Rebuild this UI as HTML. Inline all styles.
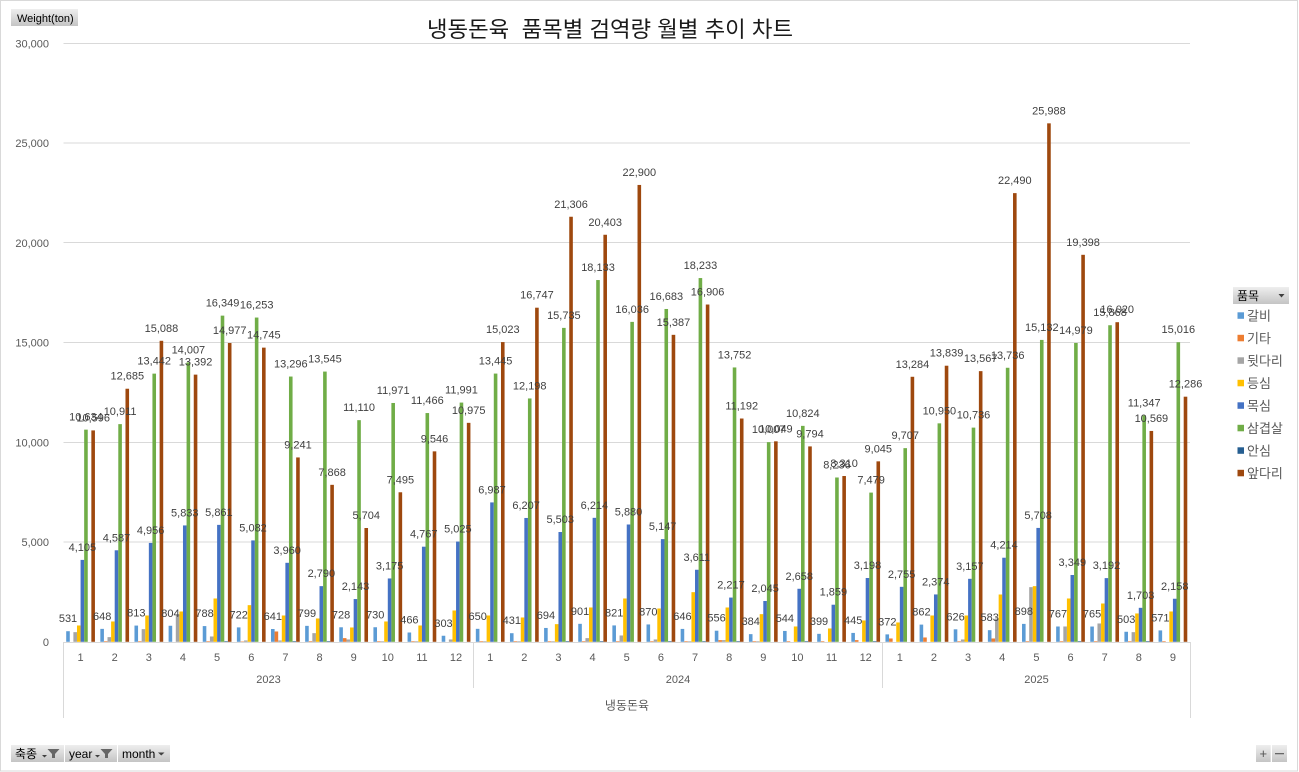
<!DOCTYPE html>
<html><head><meta charset="utf-8">
<style>
html,body{margin:0;padding:0;background:#fff;}
svg{display:block;font-family:"Liberation Sans","Noto Sans CJK KR",sans-serif;}
.a{fill:#5B9BD5}.b{fill:#ED7D31}.c{fill:#A5A5A5}.d{fill:#FFC000}.e{fill:#4472C4}.f{fill:#70AD47}.g{fill:#255E91}.h{fill:#9E480E}
.l{font-size:11px;fill:#404040;text-anchor:middle}
.t{font-size:11px;fill:#595959;text-anchor:end}
.m{font-size:11px;fill:#595959;text-anchor:middle}
.lg{font-size:13px;fill:#595959}
.gl{stroke:#d9d9d9;stroke-width:1}
</style></head><body>
<svg width="1299" height="772" viewBox="0 0 1299 772" xmlns="http://www.w3.org/2000/svg">
<defs>
<linearGradient id="btn" x1="0" y1="0" x2="0" y2="1"><stop offset="0" stop-color="#eeeeee"/><stop offset="1" stop-color="#c4c4c4"/></linearGradient>
</defs>
<rect x="0.5" y="0.5" width="1297" height="770.5" fill="#fff" stroke="#d9d9d9"/>

<!-- title -->
<text x="427" y="37" font-size="22" fill="#1a1a1a" xml:space="preserve" textLength="366" lengthAdjust="spacingAndGlyphs">냉동돈육  품목별 검역량 월별 추이 차트</text>

<!-- Weight button -->
<rect x="11" y="9" width="67" height="17" fill="url(#btn)"/>
<text x="17" y="22" font-size="11" fill="#000">Weight(ton)</text>

<!-- gridlines -->
<line class="gl" x1="63.5" x2="1190" y1="43.5" y2="43.5"/>
<line class="gl" x1="63.5" x2="1190" y1="143" y2="143"/>
<line class="gl" x1="63.5" x2="1190" y1="242.5" y2="242.5"/>
<line class="gl" x1="63.5" x2="1190" y1="342.5" y2="342.5"/>
<line class="gl" x1="63.5" x2="1190" y1="442.5" y2="442.5"/>
<line class="gl" x1="63.5" x2="1190" y1="542" y2="542"/>

<!-- y labels -->
<text class="t" x="49" y="47.5">30,000</text>
<text class="t" x="49" y="147">25,000</text>
<text class="t" x="49" y="246.8">20,000</text>
<text class="t" x="49" y="346.5">15,000</text>
<text class="t" x="49" y="446.3">10,000</text>
<text class="t" x="49" y="546">5,000</text>
<text class="t" x="49" y="645.8">0</text>

<!-- bars -->
<g transform="matrix(1,0,0,-0.01995,80.57,641.8)"><rect class="a" x="-14.37" width="3.59" height="531"/><rect class="c" x="-7.19" width="3.59" height="484"/><rect class="d" x="-3.59" width="3.59" height="818"/><rect class="e" x="0" width="3.59" height="4105"/><rect class="f" x="3.59" width="3.59" height="10634"/><rect class="h" x="10.78" width="3.59" height="10596"/>
<text class="l" transform="matrix(1,0,0,-50.125,-12.57,531)" y="-9">531</text><text class="l" transform="matrix(1,0,0,-50.125,1.8,4105)" y="-9">4,105</text><text class="l" transform="matrix(1,0,0,-50.125,5.39,10634)" y="-9">10,634</text><text class="l" transform="matrix(1,0,0,-50.125,12.58,10596)" y="-9">10,596</text></g>

<g transform="matrix(1,0,0,-0.01995,114.70,641.8)"><rect class="a" x="-14.37" width="3.59" height="648"/><rect class="b" x="-10.78" width="3.59" height="30"/><rect class="c" x="-7.19" width="3.59" height="234"/><rect class="d" x="-3.59" width="3.59" height="1019"/><rect class="e" x="0" width="3.59" height="4587"/><rect class="f" x="3.59" width="3.59" height="10911"/><rect class="h" x="10.78" width="3.59" height="12685"/>
<text class="l" transform="matrix(1,0,0,-50.125,-12.57,648)" y="-9">648</text><text class="l" transform="matrix(1,0,0,-50.125,1.8,4587)" y="-9">4,587</text><text class="l" transform="matrix(1,0,0,-50.125,5.39,10911)" y="-9">10,911</text><text class="l" transform="matrix(1,0,0,-50.125,12.58,12685)" y="-9">12,685</text></g>

<g transform="matrix(1,0,0,-0.01995,148.84,641.8)"><rect class="a" x="-14.37" width="3.59" height="813"/><rect class="b" x="-10.78" width="3.59" height="30"/><rect class="c" x="-7.19" width="3.59" height="635"/><rect class="d" x="-3.59" width="3.59" height="1319"/><rect class="e" x="0" width="3.59" height="4956"/><rect class="f" x="3.59" width="3.59" height="13442"/><rect class="h" x="10.78" width="3.59" height="15088"/>
<text class="l" transform="matrix(1,0,0,-50.125,-12.57,813)" y="-9">813</text><text class="l" transform="matrix(1,0,0,-50.125,1.8,4956)" y="-9">4,956</text><text class="l" transform="matrix(1,0,0,-50.125,5.39,13442)" y="-9">13,442</text><text class="l" transform="matrix(1,0,0,-50.125,12.58,15088)" y="-9">15,088</text></g>

<g transform="matrix(1,0,0,-0.01995,182.98,641.8)"><rect class="a" x="-14.37" width="3.59" height="804"/><rect class="c" x="-7.19" width="3.59" height="1353"/><rect class="d" x="-3.59" width="3.59" height="1520"/><rect class="e" x="0" width="3.59" height="5833"/><rect class="f" x="3.59" width="3.59" height="14007"/><rect class="h" x="10.78" width="3.59" height="13392"/>
<text class="l" transform="matrix(1,0,0,-50.125,-12.57,804)" y="-9">804</text><text class="l" transform="matrix(1,0,0,-50.125,1.8,5833)" y="-9">5,833</text><text class="l" transform="matrix(1,0,0,-50.125,5.39,14007)" y="-9">14,007</text><text class="l" transform="matrix(1,0,0,-50.125,12.58,13392)" y="-9">13,392</text></g>

<g transform="matrix(1,0,0,-0.01995,217.11,641.8)"><rect class="a" x="-14.37" width="3.59" height="788"/><rect class="b" x="-10.78" width="3.59" height="30"/><rect class="c" x="-7.19" width="3.59" height="267"/><rect class="d" x="-3.59" width="3.59" height="2171"/><rect class="e" x="0" width="3.59" height="5861"/><rect class="f" x="3.59" width="3.59" height="16349"/><rect class="g" x="7.19" width="3.59" height="30"/><rect class="h" x="10.78" width="3.59" height="14977"/>
<text class="l" transform="matrix(1,0,0,-50.125,-12.57,788)" y="-9">788</text><text class="l" transform="matrix(1,0,0,-50.125,1.8,5861)" y="-9">5,861</text><text class="l" transform="matrix(1,0,0,-50.125,5.39,16349)" y="-9">16,349</text><text class="l" transform="matrix(1,0,0,-50.125,12.58,14977)" y="-9">14,977</text></g>

<g transform="matrix(1,0,0,-0.01995,251.25,641.8)"><rect class="a" x="-14.37" width="3.59" height="722"/><rect class="b" x="-10.78" width="3.59" height="20"/><rect class="c" x="-7.19" width="3.59" height="67"/><rect class="d" x="-3.59" width="3.59" height="1837"/><rect class="e" x="0" width="3.59" height="5082"/><rect class="f" x="3.59" width="3.59" height="16253"/><rect class="h" x="10.78" width="3.59" height="14745"/>
<text class="l" transform="matrix(1,0,0,-50.125,-12.57,722)" y="-9">722</text><text class="l" transform="matrix(1,0,0,-50.125,1.8,5082)" y="-9">5,082</text><text class="l" transform="matrix(1,0,0,-50.125,5.39,16253)" y="-9">16,253</text><text class="l" transform="matrix(1,0,0,-50.125,12.58,14745)" y="-9">14,745</text></g>

<g transform="matrix(1,0,0,-0.01995,285.38,641.8)"><rect class="a" x="-14.37" width="3.59" height="641"/><rect class="b" x="-10.78" width="3.59" height="518"/><rect class="c" x="-7.19" width="3.59" height="67"/><rect class="d" x="-3.59" width="3.59" height="1319"/><rect class="e" x="0" width="3.59" height="3960"/><rect class="f" x="3.59" width="3.59" height="13296"/><rect class="g" x="7.19" width="3.59" height="30"/><rect class="h" x="10.78" width="3.59" height="9241"/>
<text class="l" transform="matrix(1,0,0,-50.125,-12.57,641)" y="-9">641</text><text class="l" transform="matrix(1,0,0,-50.125,1.8,3960)" y="-9">3,960</text><text class="l" transform="matrix(1,0,0,-50.125,5.39,13296)" y="-9">13,296</text><text class="l" transform="matrix(1,0,0,-50.125,12.58,9241)" y="-9">9,241</text></g>

<g transform="matrix(1,0,0,-0.01995,319.52,641.8)"><rect class="a" x="-14.37" width="3.59" height="799"/><rect class="b" x="-10.78" width="3.59" height="30"/><rect class="c" x="-7.19" width="3.59" height="434"/><rect class="d" x="-3.59" width="3.59" height="1169"/><rect class="e" x="0" width="3.59" height="2790"/><rect class="f" x="3.59" width="3.59" height="13545"/><rect class="g" x="7.19" width="3.59" height="30"/><rect class="h" x="10.78" width="3.59" height="7868"/>
<text class="l" transform="matrix(1,0,0,-50.125,-12.57,799)" y="-9">799</text><text class="l" transform="matrix(1,0,0,-50.125,1.8,2790)" y="-9">2,790</text><text class="l" transform="matrix(1,0,0,-50.125,5.39,13545)" y="-9">13,545</text><text class="l" transform="matrix(1,0,0,-50.125,12.58,7868)" y="-9">7,868</text></g>

<g transform="matrix(1,0,0,-0.01995,353.66,641.8)"><rect class="a" x="-14.37" width="3.59" height="728"/><rect class="b" x="-10.78" width="3.59" height="184"/><rect class="c" x="-7.19" width="3.59" height="117"/><rect class="d" x="-3.59" width="3.59" height="718"/><rect class="e" x="0" width="3.59" height="2143"/><rect class="f" x="3.59" width="3.59" height="11110"/><rect class="h" x="10.78" width="3.59" height="5704"/>
<text class="l" transform="matrix(1,0,0,-50.125,-12.57,728)" y="-9">728</text><text class="l" transform="matrix(1,0,0,-50.125,1.8,2143)" y="-9">2,143</text><text class="l" transform="matrix(1,0,0,-50.125,5.39,11110)" y="-9">11,110</text><text class="l" transform="matrix(1,0,0,-50.125,12.58,5704)" y="-9">5,704</text></g>

<g transform="matrix(1,0,0,-0.01995,387.79,641.8)"><rect class="a" x="-14.37" width="3.59" height="730"/><rect class="b" x="-10.78" width="3.59" height="30"/><rect class="c" x="-7.19" width="3.59" height="30"/><rect class="d" x="-3.59" width="3.59" height="1019"/><rect class="e" x="0" width="3.59" height="3175"/><rect class="f" x="3.59" width="3.59" height="11971"/><rect class="h" x="10.78" width="3.59" height="7495"/>
<text class="l" transform="matrix(1,0,0,-50.125,-12.57,730)" y="-9">730</text><text class="l" transform="matrix(1,0,0,-50.125,1.8,3175)" y="-9">3,175</text><text class="l" transform="matrix(1,0,0,-50.125,5.39,11971)" y="-9">11,971</text><text class="l" transform="matrix(1,0,0,-50.125,12.58,7495)" y="-9">7,495</text></g>

<g transform="matrix(1,0,0,-0.01995,421.93,641.8)"><rect class="a" x="-14.37" width="3.59" height="466"/><rect class="b" x="-10.78" width="3.59" height="30"/><rect class="c" x="-7.19" width="3.59" height="30"/><rect class="d" x="-3.59" width="3.59" height="818"/><rect class="e" x="0" width="3.59" height="4767"/><rect class="f" x="3.59" width="3.59" height="11466"/><rect class="h" x="10.78" width="3.59" height="9546"/>
<text class="l" transform="matrix(1,0,0,-50.125,-12.57,466)" y="-9">466</text><text class="l" transform="matrix(1,0,0,-50.125,1.8,4767)" y="-9">4,767</text><text class="l" transform="matrix(1,0,0,-50.125,5.39,11466)" y="-9">11,466</text><text class="l" transform="matrix(1,0,0,-50.125,12.58,9546)" y="-9">9,546</text></g>

<g transform="matrix(1,0,0,-0.01995,456.06,641.8)"><rect class="a" x="-14.37" width="3.59" height="303"/><rect class="c" x="-7.19" width="3.59" height="117"/><rect class="d" x="-3.59" width="3.59" height="1570"/><rect class="e" x="0" width="3.59" height="5025"/><rect class="f" x="3.59" width="3.59" height="11991"/><rect class="h" x="10.78" width="3.59" height="10975"/>
<text class="l" transform="matrix(1,0,0,-50.125,-12.57,303)" y="-9">303</text><text class="l" transform="matrix(1,0,0,-50.125,1.8,5025)" y="-9">5,025</text><text class="l" transform="matrix(1,0,0,-50.125,5.39,11991)" y="-9">11,991</text><text class="l" transform="matrix(1,0,0,-50.125,12.58,10975)" y="-9">10,975</text></g>

<g transform="matrix(1,0,0,-0.01995,490.20,641.8)"><rect class="a" x="-14.37" width="3.59" height="650"/><rect class="b" x="-10.78" width="3.59" height="30"/><rect class="c" x="-7.19" width="3.59" height="30"/><rect class="d" x="-3.59" width="3.59" height="1319"/><rect class="e" x="0" width="3.59" height="6987"/><rect class="f" x="3.59" width="3.59" height="13445"/><rect class="h" x="10.78" width="3.59" height="15023"/>
<text class="l" transform="matrix(1,0,0,-50.125,-12.57,650)" y="-9">650</text><text class="l" transform="matrix(1,0,0,-50.125,1.8,6987)" y="-9">6,987</text><text class="l" transform="matrix(1,0,0,-50.125,5.39,13445)" y="-9">13,445</text><text class="l" transform="matrix(1,0,0,-50.125,12.58,15023)" y="-9">15,023</text></g>

<g transform="matrix(1,0,0,-0.01995,524.34,641.8)"><rect class="a" x="-14.37" width="3.59" height="431"/><rect class="b" x="-10.78" width="3.59" height="30"/><rect class="c" x="-7.19" width="3.59" height="30"/><rect class="d" x="-3.59" width="3.59" height="1219"/><rect class="e" x="0" width="3.59" height="6207"/><rect class="f" x="3.59" width="3.59" height="12198"/><rect class="h" x="10.78" width="3.59" height="16747"/>
<text class="l" transform="matrix(1,0,0,-50.125,-12.57,431)" y="-9">431</text><text class="l" transform="matrix(1,0,0,-50.125,1.8,6207)" y="-9">6,207</text><text class="l" transform="matrix(1,0,0,-50.125,5.39,12198)" y="-9">12,198</text><text class="l" transform="matrix(1,0,0,-50.125,12.58,16747)" y="-9">16,747</text></g>

<g transform="matrix(1,0,0,-0.01995,558.47,641.8)"><rect class="a" x="-14.37" width="3.59" height="694"/><rect class="b" x="-10.78" width="3.59" height="30"/><rect class="c" x="-7.19" width="3.59" height="30"/><rect class="d" x="-3.59" width="3.59" height="885"/><rect class="e" x="0" width="3.59" height="5503"/><rect class="f" x="3.59" width="3.59" height="15735"/><rect class="g" x="7.19" width="3.59" height="30"/><rect class="h" x="10.78" width="3.59" height="21306"/>
<text class="l" transform="matrix(1,0,0,-50.125,-12.57,694)" y="-9">694</text><text class="l" transform="matrix(1,0,0,-50.125,1.8,5503)" y="-9">5,503</text><text class="l" transform="matrix(1,0,0,-50.125,5.39,15735)" y="-9">15,735</text><text class="l" transform="matrix(1,0,0,-50.125,12.58,21306)" y="-9">21,306</text></g>

<g transform="matrix(1,0,0,-0.01995,592.61,641.8)"><rect class="a" x="-14.37" width="3.59" height="901"/><rect class="b" x="-10.78" width="3.59" height="30"/><rect class="c" x="-7.19" width="3.59" height="184"/><rect class="d" x="-3.59" width="3.59" height="1720"/><rect class="e" x="0" width="3.59" height="6214"/><rect class="f" x="3.59" width="3.59" height="18133"/><rect class="g" x="7.19" width="3.59" height="30"/><rect class="h" x="10.78" width="3.59" height="20403"/>
<text class="l" transform="matrix(1,0,0,-50.125,-12.57,901)" y="-9">901</text><text class="l" transform="matrix(1,0,0,-50.125,1.8,6214)" y="-9">6,214</text><text class="l" transform="matrix(1,0,0,-50.125,5.39,18133)" y="-9">18,133</text><text class="l" transform="matrix(1,0,0,-50.125,12.58,20403)" y="-9">20,403</text></g>

<g transform="matrix(1,0,0,-0.01995,626.74,641.8)"><rect class="a" x="-14.37" width="3.59" height="821"/><rect class="b" x="-10.78" width="3.59" height="30"/><rect class="c" x="-7.19" width="3.59" height="317"/><rect class="d" x="-3.59" width="3.59" height="2171"/><rect class="e" x="0" width="3.59" height="5880"/><rect class="f" x="3.59" width="3.59" height="16036"/><rect class="h" x="10.78" width="3.59" height="22900"/>
<text class="l" transform="matrix(1,0,0,-50.125,-12.57,821)" y="-9">821</text><text class="l" transform="matrix(1,0,0,-50.125,1.8,5880)" y="-9">5,880</text><text class="l" transform="matrix(1,0,0,-50.125,5.39,16036)" y="-9">16,036</text><text class="l" transform="matrix(1,0,0,-50.125,12.58,22900)" y="-9">22,900</text></g>

<g transform="matrix(1,0,0,-0.01995,660.88,641.8)"><rect class="a" x="-14.37" width="3.59" height="870"/><rect class="b" x="-10.78" width="3.59" height="30"/><rect class="c" x="-7.19" width="3.59" height="117"/><rect class="d" x="-3.59" width="3.59" height="1670"/><rect class="e" x="0" width="3.59" height="5147"/><rect class="f" x="3.59" width="3.59" height="16683"/><rect class="g" x="7.19" width="3.59" height="30"/><rect class="h" x="10.78" width="3.59" height="15387"/>
<text class="l" transform="matrix(1,0,0,-50.125,-12.57,870)" y="-9">870</text><text class="l" transform="matrix(1,0,0,-50.125,1.8,5147)" y="-9">5,147</text><text class="l" transform="matrix(1,0,0,-50.125,5.39,16683)" y="-9">16,683</text><text class="l" transform="matrix(1,0,0,-50.125,12.58,15387)" y="-9">15,387</text></g>

<g transform="matrix(1,0,0,-0.01995,695.02,641.8)"><rect class="a" x="-14.37" width="3.59" height="646"/><rect class="b" x="-10.78" width="3.59" height="30"/><rect class="c" x="-7.19" width="3.59" height="30"/><rect class="d" x="-3.59" width="3.59" height="2488"/><rect class="e" x="0" width="3.59" height="3611"/><rect class="f" x="3.59" width="3.59" height="18233"/><rect class="g" x="7.19" width="3.59" height="30"/><rect class="h" x="10.78" width="3.59" height="16906"/>
<text class="l" transform="matrix(1,0,0,-50.125,-12.57,646)" y="-9">646</text><text class="l" transform="matrix(1,0,0,-50.125,1.8,3611)" y="-9">3,611</text><text class="l" transform="matrix(1,0,0,-50.125,5.39,18233)" y="-9">18,233</text><text class="l" transform="matrix(1,0,0,-50.125,12.58,16906)" y="-9">16,906</text></g>

<g transform="matrix(1,0,0,-0.01995,729.15,641.8)"><rect class="a" x="-14.37" width="3.59" height="556"/><rect class="b" x="-10.78" width="3.59" height="84"/><rect class="c" x="-7.19" width="3.59" height="84"/><rect class="d" x="-3.59" width="3.59" height="1720"/><rect class="e" x="0" width="3.59" height="2217"/><rect class="f" x="3.59" width="3.59" height="13752"/><rect class="g" x="7.19" width="3.59" height="30"/><rect class="h" x="10.78" width="3.59" height="11192"/>
<text class="l" transform="matrix(1,0,0,-50.125,-12.57,556)" y="-9">556</text><text class="l" transform="matrix(1,0,0,-50.125,1.8,2217)" y="-9">2,217</text><text class="l" transform="matrix(1,0,0,-50.125,5.39,13752)" y="-9">13,752</text><text class="l" transform="matrix(1,0,0,-50.125,12.58,11192)" y="-9">11,192</text></g>

<g transform="matrix(1,0,0,-0.01995,763.29,641.8)"><rect class="a" x="-14.37" width="3.59" height="384"/><rect class="b" x="-10.78" width="3.59" height="30"/><rect class="c" x="-7.19" width="3.59" height="30"/><rect class="d" x="-3.59" width="3.59" height="1386"/><rect class="e" x="0" width="3.59" height="2045"/><rect class="f" x="3.59" width="3.59" height="10007"/><rect class="h" x="10.78" width="3.59" height="10049"/>
<text class="l" transform="matrix(1,0,0,-50.125,-12.57,384)" y="-9">384</text><text class="l" transform="matrix(1,0,0,-50.125,1.8,2045)" y="-9">2,045</text><text class="l" transform="matrix(1,0,0,-50.125,5.39,10007)" y="-9">10,007</text><text class="l" transform="matrix(1,0,0,-50.125,12.58,10049)" y="-9">10,049</text></g>

<g transform="matrix(1,0,0,-0.01995,797.42,641.8)"><rect class="a" x="-14.37" width="3.59" height="544"/><rect class="b" x="-10.78" width="3.59" height="30"/><rect class="d" x="-3.59" width="3.59" height="768"/><rect class="e" x="0" width="3.59" height="2658"/><rect class="f" x="3.59" width="3.59" height="10824"/><rect class="g" x="7.19" width="3.59" height="30"/><rect class="h" x="10.78" width="3.59" height="9794"/>
<text class="l" transform="matrix(1,0,0,-50.125,-12.57,544)" y="-9">544</text><text class="l" transform="matrix(1,0,0,-50.125,1.8,2658)" y="-9">2,658</text><text class="l" transform="matrix(1,0,0,-50.125,5.39,10824)" y="-9">10,824</text><text class="l" transform="matrix(1,0,0,-50.125,12.58,9794)" y="-9">9,794</text></g>

<g transform="matrix(1,0,0,-0.01995,831.56,641.8)"><rect class="a" x="-14.37" width="3.59" height="399"/><rect class="b" x="-10.78" width="3.59" height="30"/><rect class="d" x="-3.59" width="3.59" height="668"/><rect class="e" x="0" width="3.59" height="1859"/><rect class="f" x="3.59" width="3.59" height="8236"/><rect class="h" x="10.78" width="3.59" height="8310"/>
<text class="l" transform="matrix(1,0,0,-50.125,-12.57,399)" y="-9">399</text><text class="l" transform="matrix(1,0,0,-50.125,1.8,1859)" y="-9">1,859</text><text class="l" transform="matrix(1,0,0,-50.125,5.39,8236)" y="-9">8,236</text><text class="l" transform="matrix(1,0,0,-50.125,12.58,8310)" y="-9">8,310</text></g>

<g transform="matrix(1,0,0,-0.01995,865.70,641.8)"><rect class="a" x="-14.37" width="3.59" height="445"/><rect class="b" x="-10.78" width="3.59" height="84"/><rect class="d" x="-3.59" width="3.59" height="1069"/><rect class="e" x="0" width="3.59" height="3198"/><rect class="f" x="3.59" width="3.59" height="7479"/><rect class="g" x="7.19" width="3.59" height="30"/><rect class="h" x="10.78" width="3.59" height="9045"/>
<text class="l" transform="matrix(1,0,0,-50.125,-12.57,445)" y="-9">445</text><text class="l" transform="matrix(1,0,0,-50.125,1.8,3198)" y="-9">3,198</text><text class="l" transform="matrix(1,0,0,-50.125,5.39,7479)" y="-9">7,479</text><text class="l" transform="matrix(1,0,0,-50.125,12.58,9045)" y="-9">9,045</text></g>

<g transform="matrix(1,0,0,-0.01995,899.83,641.8)"><rect class="a" x="-14.37" width="3.59" height="372"/><rect class="b" x="-10.78" width="3.59" height="167"/><rect class="d" x="-3.59" width="3.59" height="969"/><rect class="e" x="0" width="3.59" height="2755"/><rect class="f" x="3.59" width="3.59" height="9707"/><rect class="h" x="10.78" width="3.59" height="13284"/>
<text class="l" transform="matrix(1,0,0,-50.125,-12.57,372)" y="-9">372</text><text class="l" transform="matrix(1,0,0,-50.125,1.8,2755)" y="-9">2,755</text><text class="l" transform="matrix(1,0,0,-50.125,5.39,9707)" y="-9">9,707</text><text class="l" transform="matrix(1,0,0,-50.125,12.58,13284)" y="-9">13,284</text></g>

<g transform="matrix(1,0,0,-0.01995,933.97,641.8)"><rect class="a" x="-14.37" width="3.59" height="862"/><rect class="b" x="-10.78" width="3.59" height="217"/><rect class="d" x="-3.59" width="3.59" height="1319"/><rect class="e" x="0" width="3.59" height="2374"/><rect class="f" x="3.59" width="3.59" height="10950"/><rect class="h" x="10.78" width="3.59" height="13839"/>
<text class="l" transform="matrix(1,0,0,-50.125,-12.57,862)" y="-9">862</text><text class="l" transform="matrix(1,0,0,-50.125,1.8,2374)" y="-9">2,374</text><text class="l" transform="matrix(1,0,0,-50.125,5.39,10950)" y="-9">10,950</text><text class="l" transform="matrix(1,0,0,-50.125,12.58,13839)" y="-9">13,839</text></g>

<g transform="matrix(1,0,0,-0.01995,968.10,641.8)"><rect class="a" x="-14.37" width="3.59" height="626"/><rect class="b" x="-10.78" width="3.59" height="30"/><rect class="c" x="-7.19" width="3.59" height="117"/><rect class="d" x="-3.59" width="3.59" height="1319"/><rect class="e" x="0" width="3.59" height="3157"/><rect class="f" x="3.59" width="3.59" height="10736"/><rect class="h" x="10.78" width="3.59" height="13567"/>
<text class="l" transform="matrix(1,0,0,-50.125,-12.57,626)" y="-9">626</text><text class="l" transform="matrix(1,0,0,-50.125,1.8,3157)" y="-9">3,157</text><text class="l" transform="matrix(1,0,0,-50.125,5.39,10736)" y="-9">10,736</text><text class="l" transform="matrix(1,0,0,-50.125,12.58,13567)" y="-9">13,567</text></g>

<g transform="matrix(1,0,0,-0.01995,1002.24,641.8)"><rect class="a" x="-14.37" width="3.59" height="583"/><rect class="b" x="-10.78" width="3.59" height="167"/><rect class="c" x="-7.19" width="3.59" height="1169"/><rect class="d" x="-3.59" width="3.59" height="2371"/><rect class="e" x="0" width="3.59" height="4214"/><rect class="f" x="3.59" width="3.59" height="13736"/><rect class="h" x="10.78" width="3.59" height="22490"/>
<text class="l" transform="matrix(1,0,0,-50.125,-12.57,583)" y="-9">583</text><text class="l" transform="matrix(1,0,0,-50.125,1.8,4214)" y="-9">4,214</text><text class="l" transform="matrix(1,0,0,-50.125,5.39,13736)" y="-9">13,736</text><text class="l" transform="matrix(1,0,0,-50.125,12.58,22490)" y="-9">22,490</text></g>

<g transform="matrix(1,0,0,-0.01995,1036.38,641.8)"><rect class="a" x="-14.37" width="3.59" height="898"/><rect class="b" x="-10.78" width="3.59" height="30"/><rect class="c" x="-7.19" width="3.59" height="2739"/><rect class="d" x="-3.59" width="3.59" height="2789"/><rect class="e" x="0" width="3.59" height="5708"/><rect class="f" x="3.59" width="3.59" height="15132"/><rect class="h" x="10.78" width="3.59" height="25988"/>
<text class="l" transform="matrix(1,0,0,-50.125,-12.57,898)" y="-9">898</text><text class="l" transform="matrix(1,0,0,-50.125,1.8,5708)" y="-9">5,708</text><text class="l" transform="matrix(1,0,0,-50.125,5.39,15132)" y="-9">15,132</text><text class="l" transform="matrix(1,0,0,-50.125,12.58,25988)" y="-9">25,988</text></g>

<g transform="matrix(1,0,0,-0.01995,1070.51,641.8)"><rect class="a" x="-14.37" width="3.59" height="767"/><rect class="b" x="-10.78" width="3.59" height="30"/><rect class="c" x="-7.19" width="3.59" height="768"/><rect class="d" x="-3.59" width="3.59" height="2171"/><rect class="e" x="0" width="3.59" height="3349"/><rect class="f" x="3.59" width="3.59" height="14979"/><rect class="g" x="7.19" width="3.59" height="30"/><rect class="h" x="10.78" width="3.59" height="19398"/>
<text class="l" transform="matrix(1,0,0,-50.125,-12.57,767)" y="-9">767</text><text class="l" transform="matrix(1,0,0,-50.125,1.8,3349)" y="-9">3,349</text><text class="l" transform="matrix(1,0,0,-50.125,5.39,14979)" y="-9">14,979</text><text class="l" transform="matrix(1,0,0,-50.125,12.58,19398)" y="-9">19,398</text></g>

<g transform="matrix(1,0,0,-0.01995,1104.65,641.8)"><rect class="a" x="-14.37" width="3.59" height="765"/><rect class="b" x="-10.78" width="3.59" height="30"/><rect class="c" x="-7.19" width="3.59" height="919"/><rect class="d" x="-3.59" width="3.59" height="1920"/><rect class="e" x="0" width="3.59" height="3192"/><rect class="f" x="3.59" width="3.59" height="15868"/><rect class="h" x="10.78" width="3.59" height="16020"/>
<text class="l" transform="matrix(1,0,0,-50.125,-12.57,765)" y="-9">765</text><text class="l" transform="matrix(1,0,0,-50.125,1.8,3192)" y="-9">3,192</text><text class="l" transform="matrix(1,0,0,-50.125,5.39,15868)" y="-9">15,868</text><text class="l" transform="matrix(1,0,0,-50.125,12.58,16020)" y="-9">16,020</text></g>

<g transform="matrix(1,0,0,-0.01995,1138.78,641.8)"><rect class="a" x="-14.37" width="3.59" height="503"/><rect class="b" x="-10.78" width="3.59" height="30"/><rect class="c" x="-7.19" width="3.59" height="484"/><rect class="d" x="-3.59" width="3.59" height="1420"/><rect class="e" x="0" width="3.59" height="1703"/><rect class="f" x="3.59" width="3.59" height="11347"/><rect class="g" x="7.19" width="3.59" height="30"/><rect class="h" x="10.78" width="3.59" height="10569"/>
<text class="l" transform="matrix(1,0,0,-50.125,-12.57,503)" y="-9">503</text><text class="l" transform="matrix(1,0,0,-50.125,1.8,1703)" y="-9">1,703</text><text class="l" transform="matrix(1,0,0,-50.125,5.39,11347)" y="-9">11,347</text><text class="l" transform="matrix(1,0,0,-50.125,12.58,10569)" y="-9">10,569</text></g>

<g transform="matrix(1,0,0,-0.01995,1172.92,641.8)"><rect class="a" x="-14.37" width="3.59" height="571"/><rect class="b" x="-10.78" width="3.59" height="30"/><rect class="d" x="-3.59" width="3.59" height="1520"/><rect class="e" x="0" width="3.59" height="2158"/><rect class="f" x="3.59" width="3.59" height="15016"/><rect class="h" x="10.78" width="3.59" height="12286"/>
<text class="l" transform="matrix(1,0,0,-50.125,-12.57,571)" y="-9">571</text><text class="l" transform="matrix(1,0,0,-50.125,1.8,2158)" y="-9">2,158</text><text class="l" transform="matrix(1,0,0,-50.125,5.39,15016)" y="-9">15,016</text><text class="l" transform="matrix(1,0,0,-50.125,12.58,12286)" y="-9">12,286</text></g>

<!-- axis lines -->
<line class="gl" x1="63.5" x2="1190.5" y1="642.5" y2="642.5"/>
<line class="gl" x1="63.5" x2="63.5" y1="642" y2="718"/>
<line class="gl" x1="1190.5" x2="1190.5" y1="642" y2="718"/>
<line class="gl" x1="473.5" x2="473.5" y1="642" y2="688"/>
<line class="gl" x1="882.5" x2="882.5" y1="642" y2="688"/>

<!-- month labels -->
<g class="m">
<text x="80.57" y="661">1</text><text x="114.70" y="661">2</text><text x="148.84" y="661">3</text><text x="182.98" y="661">4</text><text x="217.11" y="661">5</text><text x="251.25" y="661">6</text><text x="285.38" y="661">7</text><text x="319.52" y="661">8</text><text x="353.66" y="661">9</text><text x="387.79" y="661">10</text><text x="421.93" y="661">11</text><text x="456.06" y="661">12</text>
<text x="490.20" y="661">1</text><text x="524.34" y="661">2</text><text x="558.47" y="661">3</text><text x="592.61" y="661">4</text><text x="626.74" y="661">5</text><text x="660.88" y="661">6</text><text x="695.02" y="661">7</text><text x="729.15" y="661">8</text><text x="763.29" y="661">9</text><text x="797.42" y="661">10</text><text x="831.56" y="661">11</text><text x="865.70" y="661">12</text>
<text x="899.83" y="661">1</text><text x="933.97" y="661">2</text><text x="968.10" y="661">3</text><text x="1002.24" y="661">4</text><text x="1036.38" y="661">5</text><text x="1070.51" y="661">6</text><text x="1104.65" y="661">7</text><text x="1138.78" y="661">8</text><text x="1172.92" y="661">9</text>
<text x="268.5" y="683">2023</text><text x="678" y="683">2024</text><text x="1036.5" y="683">2025</text>
<text x="627" y="709.5" style="font-size:12px">냉동돈육</text>
</g>

<!-- legend -->
<rect x="1233" y="287" width="56" height="17" fill="url(#btn)"/>
<text x="1237" y="300" font-size="12" fill="#000">품목</text>
<polygon points="1278.5,294 1284.5,294 1281.5,297.5" fill="#404040"/>
<rect class="a" x="1237.5" y="312.3" width="6.5" height="6.5"/><text class="lg" x="1247" y="320.5">갈비</text>
<rect class="b" x="1237.5" y="334.8" width="6.5" height="6.5"/><text class="lg" x="1247" y="343">기타</text>
<rect class="c" x="1237.5" y="357.3" width="6.5" height="6.5"/><text class="lg" x="1247" y="365.5">뒷다리</text>
<rect class="d" x="1237.5" y="379.8" width="6.5" height="6.5"/><text class="lg" x="1247" y="388">등심</text>
<rect class="e" x="1237.5" y="402.3" width="6.5" height="6.5"/><text class="lg" x="1247" y="410.5">목심</text>
<rect class="f" x="1237.5" y="424.8" width="6.5" height="6.5"/><text class="lg" x="1247" y="433">삼겹살</text>
<rect class="g" x="1237.5" y="447.3" width="6.5" height="6.5"/><text class="lg" x="1247" y="455.5">안심</text>
<rect class="h" x="1237.5" y="469.8" width="6.5" height="6.5"/><text class="lg" x="1247" y="478">앞다리</text>

<!-- bottom buttons -->
<rect x="11" y="745" width="53" height="17" fill="url(#btn)"/>
<text x="15" y="758" font-size="12" fill="#000">축종</text>
<polygon points="42,755 47,755 44.5,757.5" fill="#404040"/>
<polygon points="47.5,749 59.5,749 55,754 55,758 52,758 52,754" fill="#666"/>
<rect x="65" y="745" width="52" height="17" fill="url(#btn)"/>
<text x="69" y="758" font-size="12" fill="#000">year</text>
<polygon points="95,755 100,755 97.5,757.5" fill="#404040"/>
<polygon points="100.5,749 112.5,749 108,754 108,758 105,758 105,754" fill="#666"/>
<rect x="118" y="745" width="52" height="17" fill="url(#btn)"/>
<text x="122" y="758" font-size="12" fill="#000">month</text>
<polygon points="158,752.5 164.5,752.5 161.25,755.5" fill="#404040"/>

<rect x="1256" y="745" width="14.7" height="17" fill="url(#btn)"/>
<text x="1263.3" y="758" font-size="13" fill="#555" text-anchor="middle">+</text>
<rect x="1272" y="745" width="15" height="17" fill="url(#btn)"/>
<rect x="1275" y="753" width="9" height="1.3" fill="#666"/>
</svg>
</body></html>
